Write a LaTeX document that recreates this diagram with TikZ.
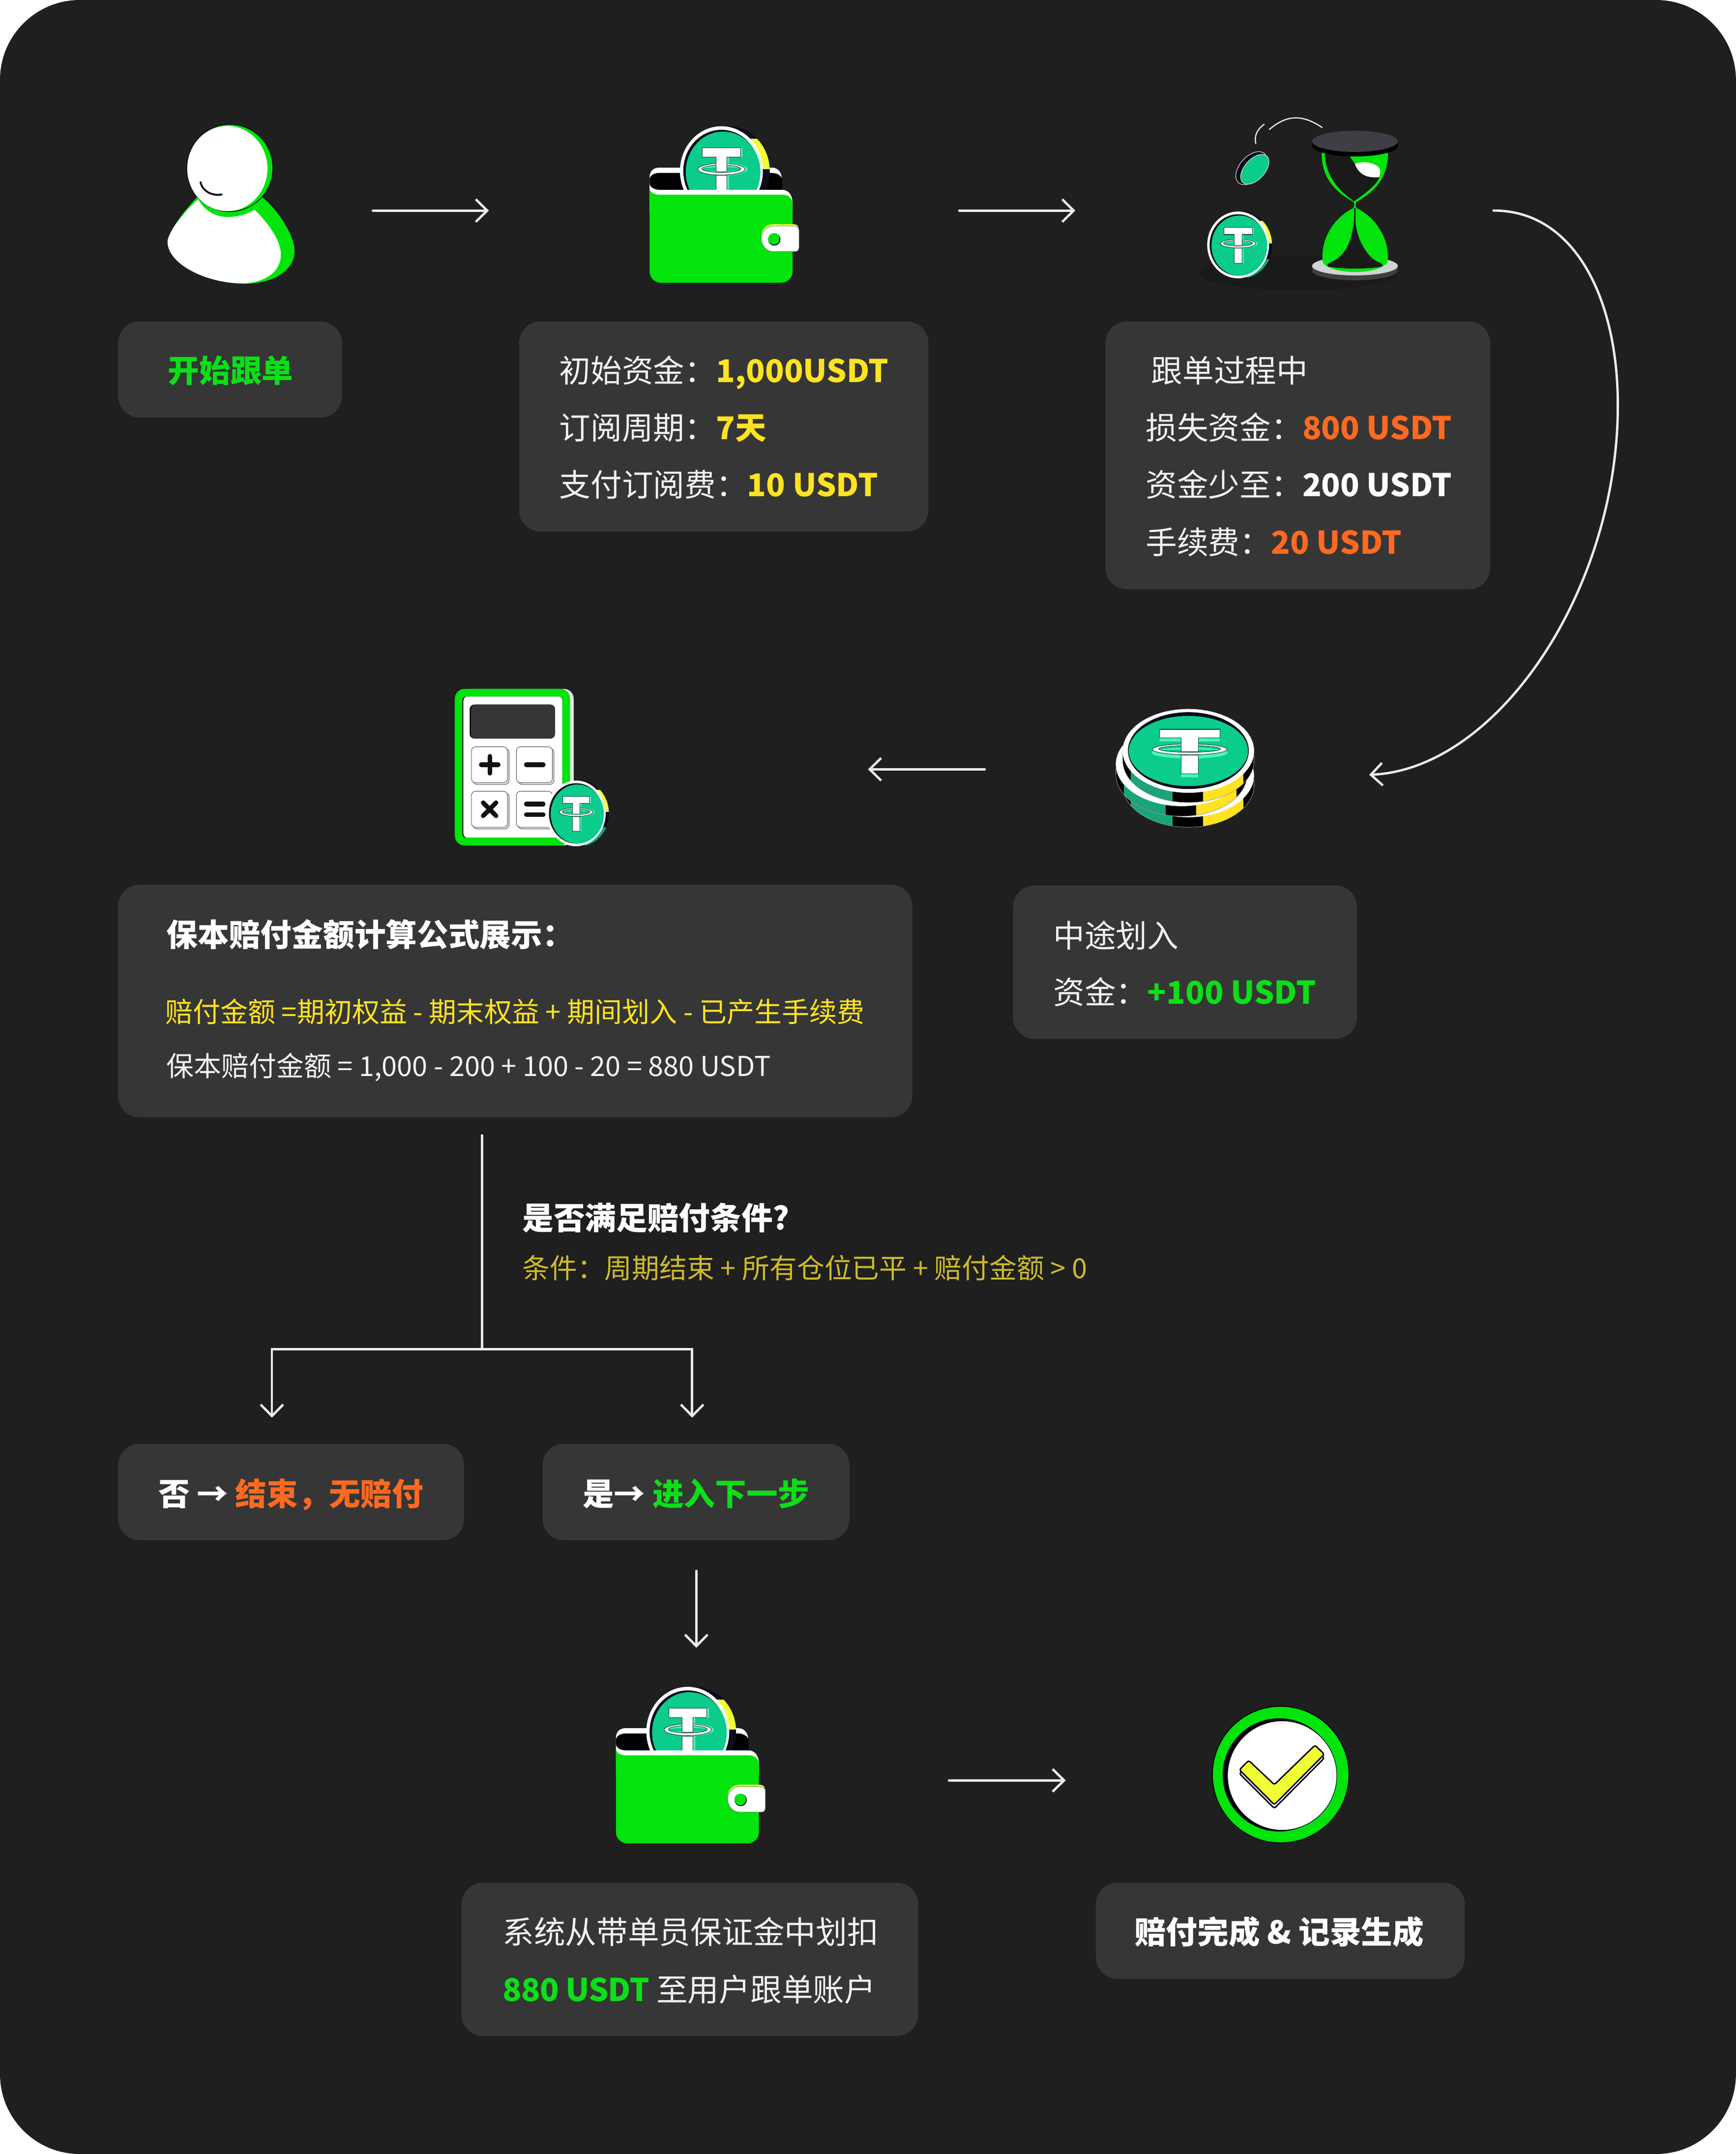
\documentclass[tikz,border=0pt]{standalone}
\usepackage{fontspec}
\setmainfont{Noto Sans CJK SC}
\usetikzlibrary{arrows.meta}
\definecolor{bgc}{HTML}{1F1F1F}
\definecolor{panelc}{HTML}{363636}
\definecolor{gr}{HTML}{02E40C}
\definecolor{tgr}{HTML}{0CDF18}
\definecolor{yel}{HTML}{FFE320}
\definecolor{ora}{HTML}{FF6A20}
\definecolor{bodyc}{HTML}{F2F2F2}
\definecolor{cond}{HTML}{CDBB2A}
\definecolor{teal}{HTML}{0BCC8A}
\definecolor{sidet}{HTML}{1BA37A}
\definecolor{mint}{HTML}{4FF5B5}
\definecolor{ink}{HTML}{0B0B1E}
\definecolor{limey}{HTML}{F0FF35}
\definecolor{shad}{HTML}{1A1A1A}
\definecolor{capc}{HTML}{3E3E44}
\definecolor{basec}{HTML}{CED4D2}
\definecolor{arrowc}{HTML}{EBEBEB}
\tikzset{
  panel/.style={fill=panelc,rounded corners=10.5pt,inner sep=0pt,outer sep=0pt,anchor=north west},
  lab/.style={inner sep=0pt,anchor=base west,text=bodyc,font=\fontsize{15.28pt}{18pt}\selectfont},
  labb/.style={lab,text=white,font=\fontsize{15.28pt}{18pt}\selectfont\bfseries},
  labs/.style={inner sep=0pt,anchor=base west,text=bodyc,font=\fontsize{13.4pt}{16pt}\selectfont},
  flow/.style={draw=arrowc,line width=1.15pt,-{Straight Barb[length=5.6pt,width=11pt,line width=1.15pt]},line cap=round},
  flowline/.style={draw=arrowc,line width=1.15pt,line cap=round,line join=round},
}
\newcommand{\panelbox}[5]{%
  \pgfmathsetlengthmacro{\pw}{(#4-#2)*0.67pt}%
  \pgfmathsetlengthmacro{\ph}{(#5-#3)*0.67pt}%
  \node[panel,minimum width=\pw,minimum height=\ph] (#1) at (#2,#3) {};}
\newcommand{\tlogo}[2]{%
  \begin{scope}[shift={(#1,#2)}]
    \fill[mint] (-.46,-.52) rectangle (.46,-.31) (-.13,-.31) rectangle (.13,.03) (-.13,.1) rectangle (.13,.55);
    \fill[mint] (0,-.04) ellipse (.58 and .14);
  \end{scope}
  \fill[teal] (0,-.04) ellipse (.5 and .09);
  \begin{scope}[shift={(#1*.6,#2*.6)}]\fill[mint,even odd rule] (0,-.04) ellipse (.5 and .09) (0,-.04) ellipse (.5 and .045);\end{scope}
  \fill[white,draw=ink!70!teal,line width=.25pt,even odd rule] (0,-.04) ellipse (.57 and .13) (0,-.05) ellipse (.47 and .08);
  \filldraw[fill=white,draw=ink!70!teal,line width=.25pt] (-.46,-.52) -- (.46,-.52) -- (.46,-.31) -- (.13,-.31) -- (.13,.02) -- (-.13,.02) -- (-.13,-.31) -- (-.46,-.31) -- cycle;
  \filldraw[fill=white,draw=ink!70!teal,line width=.25pt] (-.13,.1) rectangle (.13,.55);}
\newcommand{\tcoin}[5]{% cx cy rx ry offset: upright coin seen slightly from the left
  \begin{scope}[shift={(#1,#2)},xscale=#3,yscale=#4]
    \fill[ink] (#5,0) circle (1.0);
    \begin{scope}
      \clip (#5,0) circle (1.0);
      \fill[limey] (.3,-.72) rectangle (1.3,-.04);
      \fill[sidet] (.3,.42) rectangle (1.3,.98);
    \end{scope}
    \fill[white] (0,0) circle (1);
    \fill[ink] (0,0) circle (.92);
    \fill[teal] (.04,.02) circle (.9);
    \tlogo{.05}{0}
  \end{scope}}
\newcommand{\discpath}[1]{(-1,0) -- (-1,#1) .. controls (-1,#1+.55) and (-.55,#1+1) .. (0,#1+1) .. controls (.55,#1+1) and (1,#1+.55) .. (1,#1) -- (1,0) -- cycle}
\newcommand{\stackdisc}[2]{% cx cy
  \begin{scope}[shift={(#1,#2)},xscale=47.8,yscale=30.4]
    \begin{scope}
      \clip \discpath{.24};
      \fill[black!90!ink] (-1.1,-.1) rectangle (1.1,1.4);
      \fill[sidet] (-.875,-.1) rectangle (-.24,1.4);
      \fill[yel] (.22,-.1) rectangle (.84,1.4);
    \end{scope}
    \draw[white!60!black,line width=.2pt] (-1,.1) -- (-1,.24) .. controls (-1,.79) and (-.55,1.24) .. (0,1.24) .. controls (.55,1.24) and (1,.79) .. (1,.24) -- (1,.1);
    \fill[white] (0,0) circle (1);
  \end{scope}}
\newcommand{\walletpic}[2]{%
  \begin{scope}[shift={(#1,#2)}]
    \fill[white] (473,142) -- (473,129) .. controls (473,124.5) and (476,122) .. (480,122) -- (562,122) .. controls (566,122) and (569.2,125) .. (569.2,130) -- (569.2,142) -- cycle;
    \fill[black!90!ink] (473,130.7) .. controls (473,128) and (476,125.9) .. (480,125.9) -- (562,125.9) .. controls (566,125.9) and (569.5,128) .. (569.7,131.5) -- (569.7,139) -- (480.3,139) .. controls (476,139) and (473,136) .. (473,133.7) -- cycle;
    \begin{scope}
      \clip (470,80) rectangle (590,138.2);
      \tcoin{525.3}{124.5}{30.2}{32.6}{.165}
    \end{scope}
    \fill[white] (473,133.7) .. controls (473,136) and (476,138.2) .. (480.3,138.2) -- (569.7,138.2) .. controls (574,138.2) and (577.1,142) .. (577.1,148) -- (577.1,155) -- (473,155) -- cycle;
    \fill[gr] (473,137.2) .. controls (473,139.5) and (476,141.8) .. (480.3,141.8) -- (570.5,141.8) .. controls (574.5,141.8) and (577.1,145) .. (577.1,148.5) -- (577.1,197.5) .. controls (577.1,202.5) and (573,205.8) .. (568.8,205.8) -- (481.3,205.8) .. controls (477,205.8) and (473,202.5) .. (473,197.5) -- cycle;
    \fill[limey] (563,163.2) -- (578,163.2) .. controls (580.5,163.2) and (581.8,165) .. (581.8,168) -- (554.3,172) .. controls (554.3,167) and (558,163.2) .. (563,163.2) -- cycle;
    \filldraw[fill=white,draw=ink!60!white,line width=.2pt] (563,164.6) -- (578.5,164.6) .. controls (580.5,164.6) and (581.8,166) .. (581.8,168) -- (581.8,180) .. controls (581.8,182) and (580.5,183.1) .. (579,183.1) -- (563,183.1) .. controls (557.5,183.1) and (554.3,178) .. (554.3,173.5) .. controls (554.3,169) and (558,164.6) .. (563,164.6) -- cycle;
    \fill[ink] (563.8,174.3) circle (4.5);
    \fill[gr] (563.5,173.9) circle (4.2);
  \end{scope}}
\begin{document}
\begin{tikzpicture}[x=0.67pt,y=-0.67pt]
\useasboundingbox (0,0) rectangle (1264,1568);
\fill[white] (0,0) rectangle (1264,1568);
\fill[bgc,rounded corners=39pt] (0,0) rectangle (1264,1568);

% ---------- panels
\panelbox{pStart}{86}{234}{249}{304}
\panelbox{pFund}{378}{234}{676}{387}
\panelbox{pTrack}{805}{234}{1085}{429}
\panelbox{pFormula}{86}{644}{664.3}{813.3}
\panelbox{pTransfer}{737.6}{644.6}{988}{756.2}
\panelbox{pNo}{86}{1051}{338}{1121.2}
\panelbox{pYes}{395}{1051}{618.6}{1121.2}
\panelbox{pDeduct}{336}{1370.5}{668.6}{1482}
\panelbox{pDone}{798}{1370.5}{1066.6}{1440.5}

% ---------- texts
\node[labb,text=tgr] (tStart) at (122,278.4) {开始跟单};
\node[lab] (tFundA) at (407,278.4) {初始资金：\textcolor{yel}{\bfseries 1,000USDT}};
\node[lab] (tFundB) at (407,320) {订阅周期：\textcolor{yel}{\bfseries 7天}};
\node[lab] (tFundC) at (407,361.4) {支付订阅费：\textcolor{yel}{\bfseries 10 USDT}};
\node[lab] (tTrackA) at (838,278.4) {跟单过程中};
\node[lab] (tTrackB) at (834,320) {损失资金：\textcolor{ora}{\bfseries 800 USDT}};
\node[lab] (tTrackC) at (834,361.4) {资金少至：\textcolor{white}{\bfseries 200 USDT}};
\node[lab] (tTrackD) at (834,403.4) {手续费：\textcolor{ora}{\bfseries 20 USDT}};
\node[labb] (tFormA) at (121,689) {保本赔付金额计算公式展示：};
\node[labs,text=yel,font=\fontsize{13.45pt}{16pt}\selectfont] (tFormB) at (120,744) {赔付金额 =期初权益 - 期末权益 + 期间划入 - 已产生手续费};
\node[labs,text=bodyc] (tFormC) at (121,783.5) {保本赔付金额 = 1,000 - 200 + 100 - 20 = 880 USDT};
\node[lab] (tTransA) at (766.7,689.5) {中途划入};
\node[lab] (tTransB) at (766.7,731) {资金：\textcolor{tgr}{\bfseries +100 USDT}};
\node[labb] (tQ) at (380,895) {是否满足赔付条件?};
\node[labs,text=cond] (tCond) at (380,930.5) {条件：周期结束 + 所有仓位已平 + 赔付金额 > 0};
\node[labb] (tNo) at (115,1096) {否 → \textcolor{ora}{结束，无赔付}};
\node[labb] (tYes) at (424,1096) {是→ \textcolor{tgr}{进入下一步}};
\node[lab] (tDedA) at (365.7,1415) {系统从带单员保证金中划扣};
\node[lab] (tDedB) at (365.7,1457) {\textcolor{tgr}{\bfseries\addfontfeature{LetterSpace=-1.6}880 USDT} 至用户跟单账户};
\node[labb] (tDone) at (826,1415) {赔付完成 \& 记录生成};

% ---------- connectors
\coordinate (a1s) at (271.5,153.3); \coordinate (a1e) at (356,153.3);
\coordinate (a2s) at (698.5,153.3); \coordinate (a2e) at (783,153.3);
\coordinate (c1s) at (1087.5,153.3); \coordinate (c1m) at (1178,295); \coordinate (c1e) at (997,564);
\coordinate (a3s) at (717,560); \coordinate (a3e) at (632,560);
\coordinate (v1s) at (351,826.5); \coordinate (v1m) at (351,982);
\coordinate (bL) at (198,1032); \coordinate (bR) at (504,1032);
\coordinate (a4s) at (507,1143.5); \coordinate (a4e) at (507,1199.5);
\coordinate (a5s) at (691,1296); \coordinate (a5e) at (776,1296);
\draw[flow] (a1s) -- (a1e);
\draw[flow] (a2s) -- (a2e);
\draw[flow] (c1s) .. controls (1145,153) and (1178,215) .. (c1m) .. controls (1178,430) and (1090,560) .. (c1e);
\draw[flow] (a3s) -- (a3e);
\draw[flowline] (v1s) -- (v1m);
\draw[flow] (v1m) -| (bL);
\draw[flow] (v1m) -| (bR);
\draw[flow] (a4s) -- (a4e);
\draw[flow] (a5s) -- (a5e);

% ---------- person icon
\fill[gr] (144,143) .. controls (128,160) and (122,172) .. (122,176) .. controls (122,192) and (150,207) .. (180,206.5) .. controls (200,206) and (214.5,196) .. (214.5,183) .. controls (214.5,170) and (200,150) .. (189,142) -- cycle;
\fill[white] (144.3,145) .. controls (128,160) and (122,172) .. (122,176) .. controls (122,192) and (150,206.5) .. (178,206.3) .. controls (195,205) and (204.5,197) .. (204.5,185) .. controls (204.5,175) and (195,162) .. (185.4,152.7) .. controls (180,156) and (172,158) .. (166.6,158) .. controls (155,158) and (148,152) .. (144.3,145) -- cycle;
\fill[ink] (167.2,122.3) ellipse (31.6 and 32);
\fill[gr] (167.4,122.3) ellipse (31 and 31.4);
\fill[white] (165.5,122.7) ellipse (29.2 and 31);
\draw[ink,line width=.9pt,line cap=round] (146,132.5) .. controls (147,138) and (153,143) .. (161.5,141.6);

% ---------- wallets
\walletpic{0}{0}
\walletpic{-24.5}{1136}

% ---------- hourglass icon
\fill[shad] (945.6,198.7) ellipse (73 and 12.7);
\draw[white!90!black,line width=.6pt,line cap=round] (924.3,94.2) .. controls (937,83.5) and (948,83) .. (962.7,92.8);
\draw[white!90!black,line width=.6pt,line cap=round] (920.5,90.5) .. controls (915.5,94) and (913,99) .. (914.4,104.5);
\begin{scope}[shift={(912.6,122.8)},rotate=48]
  \filldraw[fill=ink,draw=white!85!black,line width=.3pt] (-.6,-1.2) ellipse (14.2 and 8.6);
  \filldraw[fill=teal,draw=white!85!black,line width=.3pt] (.4,1.1) ellipse (13 and 7.4);
\end{scope}
\tcoin{901.5}{178.3}{22.5}{24.3}{.1}
\fill[capc] (986.6,197) ellipse (31.2 and 7);
\fill[capc] (955.4,193.6) rectangle (1017.8,197);
\fill[basec] (986.6,193.6) ellipse (31.2 and 6.9);
\fill[gr] (962.4,111) .. controls (962,130) and (973,140) .. (985.6,147) .. controls (986.4,148.5) and (986.2,150) .. (985.4,151.5)
  .. controls (972,158) and (962.9,172) .. (962.9,187) -- (962.9,190) .. controls (964,195) and (975,198) .. (986.6,198) .. controls (998,198) and (1009,195) .. (1010.6,190) -- (1010.6,187)
  .. controls (1010.6,172) and (1001,158) .. (987.8,151.5) .. controls (987,150) and (986.8,148.5) .. (987.6,147) .. controls (1000,140) and (1011,130) .. (1010.6,111) -- cycle;
\fill[shad] (964.7,112) .. controls (965,128) and (975,139) .. (986,146.5) .. controls (995,140) and (1002,135) .. (1004.4,129) -- (994.8,128.3) .. controls (990,126) and (988,122) .. (986.6,119.3) -- (982.5,113.5) -- cycle;
\fill[white] (986.6,119.3) .. controls (992,117) and (1003,118) .. (1005.1,124.1) -- (1004.4,128.9) .. controls (996,130) and (989,127) .. (986.6,119.3) -- cycle;
\fill[shad] (986.1,151.5) -- (985.9,161) .. controls (984.5,172) and (982,184) .. (971,190) .. controls (966,192) and (966,193.5) .. (967,194) .. controls (975,196) and (998,196) .. (1006,194) .. controls (1007.5,193.5) and (1007,192) .. (1003,190.5) .. controls (994,186) and (987.5,172) .. (987,161) -- (987,151.5) -- cycle;
\fill[black] (986.6,106.2) ellipse (31.2 and 7.7);
\fill[black] (955.4,102.9) rectangle (1017.8,106.2);
\fill[capc] (986.6,102.9) ellipse (31.2 and 7.7);

% ---------- calculator icon
\fill[white!90!black,rounded corners=4.7pt] (334,501.5) rectangle (417.7,615.4);
\fill[gr,rounded corners=4.7pt] (331.2,501.5) rectangle (415.1,615.4);
\fill[black,rounded corners=2pt] (336.6,507) rectangle (409.4,609.8);
\fill[white,rounded corners=2pt] (337.4,507) rectangle (409.4,609.8);
\fill[black,rounded corners=2.2pt] (342,512.9) rectangle (404.1,537.6);
\fill[panelc,rounded corners=2.2pt] (342.8,512.9) rectangle (404.1,537.6);
\foreach \kx/\ky in {343.3/543.6,376/543.6,343.3/576,376/576}{
  \filldraw[fill=white!90!black,draw=ink!70!white,line width=.25pt,rounded corners=2pt] (\kx+1.2,\ky+1.2) rectangle ++(26.2,26.2);
  \filldraw[fill=white,draw=ink!70!white,line width=.25pt,rounded corners=2pt] (\kx,\ky) rectangle ++(26.2,26.2);
}
\draw[black!93!white,line width=2.2pt,line cap=round] (350.4,556.7) -- (362.8,556.7) (356.6,550.5) -- (356.6,562.9);
\draw[black!93!white,line width=2.2pt,line cap=round] (383.2,556.7) -- (395.6,556.7);
\draw[black!93!white,line width=2.2pt,line cap=round] (351.8,584.3) -- (361.2,593.9) (361.2,584.3) -- (351.8,593.9);
\draw[black!93!white,line width=2.2pt,line cap=round] (383.2,585.3) -- (395.6,585.3) (383.2,593) -- (395.6,593);
\tcoin{419.5}{592.1}{21.5}{23.9}{.11}

% ---------- coin stack icon
\stackdisc{865.3}{564.5}
\stackdisc{860.3}{556.5}
\begin{scope}
  \clip (812,540) rectangle (870,600);
  \fill[sidet] (860.3,556.5) ellipse (47.8 and 30.4);
\end{scope}
\fill[white] (860.3,556.3) ellipse (47.8 and 30.4);
\stackdisc{865.3}{546.5}
\begin{scope}[shift={(865.3,546.7)},xscale=47.8,yscale=30.4]
  \fill[white] (0,0) circle (1);
  \fill[ink] (0,-.01) circle (.92);
  \begin{scope}[xscale=.908,yscale=.84]\fill[teal] (0,0) circle (1);\end{scope}
  \begin{scope}[shift={(.02,0)}]\tlogo{0}{.08}\end{scope}
\end{scope}

% ---------- completion badge
\filldraw[fill=gr,draw=black,line width=.4pt] (932.5,1291.8) circle (49.7);
\fill[black] (931.5,1292) circle (41.2);
\filldraw[fill=white,draw=ink,line width=.3pt] (933.6,1292.5) circle (39.8);
\filldraw[fill=white,draw=ink,line width=.7pt,rounded corners=.9pt,line join=round] (902.5,1291) -- (909.2,1284.2) -- (927.9,1301.8) -- (957.5,1273.1) -- (964.3,1279.7) -- (927.9,1316.4) -- cycle;
\filldraw[fill=limey,draw=ink,line width=.7pt,rounded corners=.9pt,line join=round] (902.5,1288.3) -- (909.2,1281.5) -- (927.9,1299.1) -- (957.5,1270.4) -- (964.3,1277) -- (927.9,1313.7) -- cycle;
\end{tikzpicture}
\end{document}
